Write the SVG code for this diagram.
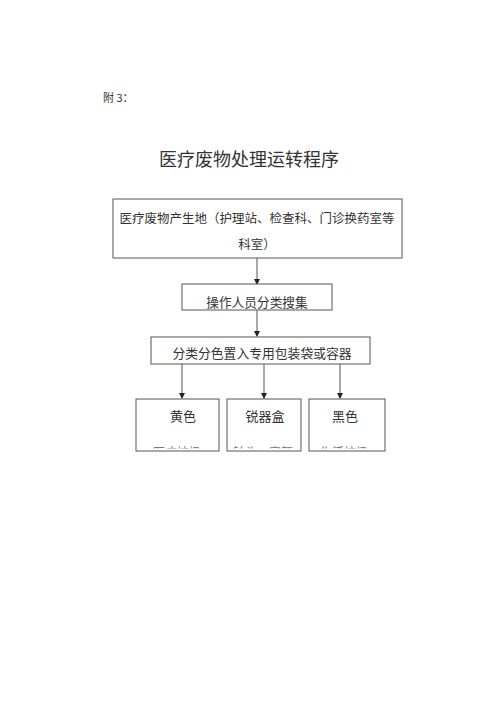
<svg xmlns="http://www.w3.org/2000/svg" width="500" height="707" viewBox="0 0 500 707">
<style>
text{font-family:"Noto Sans CJK SC","Noto Sans",sans-serif;fill:#333;}
.box{fill:#fff;stroke:#555;stroke-width:1;}
.ln{stroke:#555;stroke-width:1;fill:none;}
.cut{fill:#777;font-size:12px;}
</style>
<defs>
<marker id="ah" markerWidth="6" markerHeight="6" refX="5" refY="3" orient="auto" markerUnits="userSpaceOnUse">
<path d="M0,0 L6,3 L0,6 Z" fill="#222"/>
</marker>
<clipPath id="c4"><rect x="137" y="440" width="81" height="8.5"/></clipPath>
<clipPath id="c5"><rect x="228" y="440" width="73" height="8.5"/></clipPath>
<clipPath id="c6"><rect x="310" y="440" width="75" height="8.5"/></clipPath>
</defs>
<rect width="500" height="707" fill="#fff"/>
<text x="103" y="97" font-size="11" dominant-baseline="central">附 3：</text>
<text x="249" y="158" font-size="18" text-anchor="middle" dominant-baseline="central">医疗废物处理运转程序</text>
<g id="connectors">
<line class="ln" x1="257" y1="258" x2="257" y2="284" marker-end="url(#ah)"/>
<line class="ln" x1="257" y1="310" x2="257" y2="336" marker-end="url(#ah)"/>
<line class="ln" x1="182" y1="364" x2="182" y2="398" marker-end="url(#ah)"/>
<line class="ln" x1="264" y1="364" x2="264" y2="398" marker-end="url(#ah)"/>
<line class="ln" x1="340" y1="364" x2="340" y2="398" marker-end="url(#ah)"/>
</g>
<g id="source">
<rect class="box" x="113" y="199" width="289" height="59"/>
<text x="257" y="217" font-size="12.5" text-anchor="middle" dominant-baseline="central">医疗废物产生地（护理站、检查科、门诊换药室等</text>
<text x="257" y="243" font-size="12.5" text-anchor="middle" dominant-baseline="central">科室）</text>
</g>
<g id="collect">
<rect class="box" x="182" y="284" width="150" height="26"/>
<text x="257" y="301" font-size="12.7" text-anchor="middle" dominant-baseline="central">操作人员分类搜集</text>
</g>
<g id="sort">
<rect class="box" x="151" y="337" width="219" height="27"/>
<text x="262" y="352" font-size="12.8" text-anchor="middle" dominant-baseline="central">分类分色置入专用包装袋或容器</text>
</g>
<g id="yellow">
<rect class="box" x="136" y="399" width="83" height="52"/>
<text x="183" y="415" font-size="13" text-anchor="middle" dominant-baseline="central">黄色</text>
<text class="cut" x="153" y="451" dominant-baseline="central" clip-path="url(#c4)">医疗垃圾</text>
</g>
<g id="sharps">
<rect class="box" x="227" y="399" width="74" height="52"/>
<text x="265" y="415" font-size="13" text-anchor="middle" dominant-baseline="central">锐器盒</text>
<text class="cut" x="233" y="451" dominant-baseline="central" clip-path="url(#c5)">针头、安瓿</text>
</g>
<g id="black">
<rect class="box" x="309" y="399" width="76" height="52"/>
<text x="345" y="415" font-size="13" text-anchor="middle" dominant-baseline="central">黑色</text>
<text class="cut" x="320" y="451" dominant-baseline="central" clip-path="url(#c6)">生活垃圾</text>
</g>
</svg>
